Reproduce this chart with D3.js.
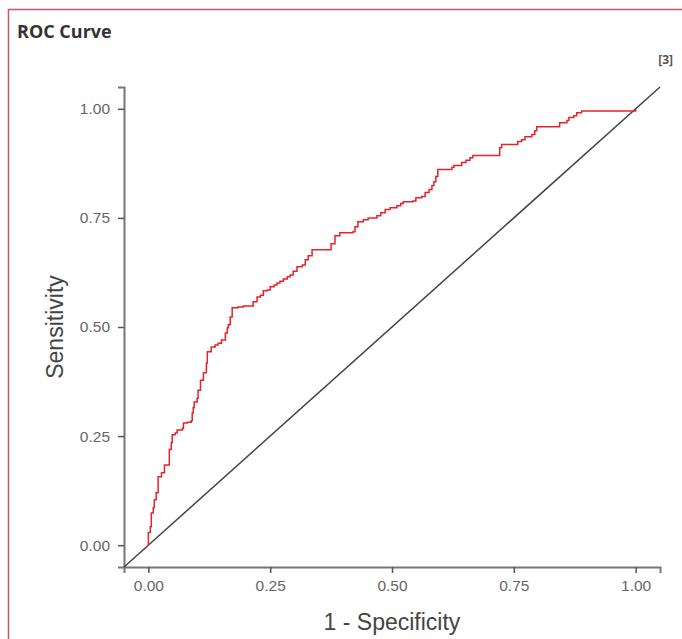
<!DOCTYPE html>
<html>
<head>
  <title>ROC Curve</title>
  <script src="https://cdn.jsdelivr.net/npm/d3@7"></script>
  <style>
    body { margin: 0; background: #fff; }
    .tick text { font-family: "Liberation Sans", Arial, sans-serif; font-size: 15.5px; fill: #666; }
    .tick line { stroke: #555; stroke-width: 1.5; }
    .domain { stroke: #777; stroke-width: 2; }
  </style>
</head>
<body>
<script>
  var width = 682;
  var height = 639;

  // roc points
  var fpr = [0, 0, 0.004, 0.006, 0.010, 0.012, 0.016, 0.020, 0.027, 0.033, 0.043, 0.047, 0.049, 0.055, 0.059,
    0.070, 0.072, 0.080, 0.088, 0.090, 0.092, 0.094, 0.100, 0.102, 0.107, 0.113, 0.119, 0.121, 0.129, 0.137,
    0.143, 0.150, 0.158, 0.162, 0.164, 0.168, 0.172, 0.184, 0.195, 0.207, 0.215, 0.223, 0.230, 0.236, 0.244,
    0.250, 0.258, 0.264, 0.270, 0.277, 0.285, 0.291, 0.297, 0.305, 0.316, 0.322, 0.328, 0.336, 0.369, 0.375,
    0.383, 0.393, 0.420, 0.424, 0.430, 0.441, 0.451, 0.469, 0.477, 0.486, 0.496, 0.510, 0.518, 0.523, 0.543,
    0.549, 0.561, 0.568, 0.576, 0.582, 0.586, 0.590, 0.594, 0.623, 0.627, 0.635, 0.643, 0.652, 0.660, 0.666,
    0.717, 0.721, 0.725, 0.752, 0.758, 0.766, 0.773, 0.787, 0.793, 0.797, 0.838, 0.844, 0.859, 0.863, 0.873,
    0.879, 0.889, 1.0];
  var tpr = [0, 0.029, 0.042, 0.074, 0.086, 0.104, 0.120, 0.157, 0.166, 0.184, 0.219, 0.235, 0.253, 0.257, 0.264,
    0.268, 0.280, 0.282, 0.285, 0.303, 0.315, 0.328, 0.337, 0.355, 0.378, 0.395, 0.417, 0.443, 0.454, 0.459,
    0.463, 0.470, 0.486, 0.498, 0.505, 0.523, 0.544, 0.546, 0.548, 0.548, 0.558, 0.569, 0.573, 0.583, 0.585,
    0.592, 0.596, 0.601, 0.605, 0.610, 0.615, 0.619, 0.628, 0.638, 0.642, 0.654, 0.663, 0.677, 0.677, 0.691,
    0.709, 0.716, 0.718, 0.730, 0.741, 0.746, 0.750, 0.755, 0.762, 0.769, 0.773, 0.778, 0.783, 0.787, 0.789,
    0.796, 0.799, 0.808, 0.815, 0.824, 0.833, 0.845, 0.861, 0.866, 0.870, 0.870, 0.877, 0.882, 0.888, 0.893,
    0.893, 0.911, 0.918, 0.918, 0.925, 0.929, 0.936, 0.941, 0.950, 0.959, 0.959, 0.968, 0.973, 0.980, 0.984,
    0.991, 0.995, 1.0];
  var ticks = [0, 0.25, 0.5, 0.75, 1];

  var svg = d3.select('body').append('svg')
    .attr('width', width)
    .attr('height', height);

  // panel border (top + left)
  svg.append('path')
    .attr('d', 'M8.5,' + height + 'V9.5H' + width)
    .attr('fill', 'none')
    .attr('stroke', '#c45a63')
    .attr('stroke-width', 1.5);

  svg.append('text')
    .attr('x', 17).attr('y', 38)
    .attr('font-family', '"Open Sans", sans-serif')
    .attr('font-weight', 'bold')
    .attr('font-size', 18)
    .attr('fill', '#333')
    .text('ROC Curve');

  svg.append('text')
    .attr('x', 673).attr('y', 64)
    .attr('text-anchor', 'end')
    .attr('font-family', '"Open Sans", sans-serif')
    .attr('font-weight', 'bold')
    .attr('font-size', 12)
    .attr('fill', '#555')
    .text('[3]');

  var x = d3.scaleLinear().domain([-0.05, 1.05]).range([124, 660]);
  var y = d3.scaleLinear().domain([-0.05, 1.05]).range([567, 87]);

  svg.append('g')
    .attr('transform', 'translate(0,567)')
    .call(d3.axisBottom(x).tickValues(ticks).tickFormat(d3.format('.2f')).tickSizeOuter(0).tickSize(6).tickPadding(7));

  svg.append('g')
    .attr('transform', 'translate(124,0)')
    .call(d3.axisLeft(y).tickValues(ticks).tickFormat(d3.format('.2f')).tickSizeOuter(0).tickSize(6).tickPadding(8));

  // diagonal reference
  svg.append('line')
    .attr('x1', x(-0.05)).attr('y1', y(-0.05))
    .attr('x2', x(1.05)).attr('y2', y(1.05))
    .attr('stroke', '#444')
    .attr('stroke-width', 1.5);

  var pts = fpr.map(function(d, i) { return [d, tpr[i]]; });
  var line = d3.line()
    .x(function(d) { return x(d[0]); })
    .y(function(d) { return y(d[1]); })
    .curve(d3.curveStepAfter);

  svg.append('path')
    .datum(pts)
    .attr('d', line)
    .attr('fill', 'none')
    .attr('stroke', '#e3242b')
    .attr('stroke-width', 1.5);

  svg.append('text')
    .attr('x', 392).attr('y', 630)
    .attr('text-anchor', 'middle')
    .attr('font-family', '"Liberation Sans", Arial, sans-serif')
    .attr('font-size', 23)
    .attr('fill', '#444')
    .text('1 - Specificity');

  svg.append('text')
    .attr('transform', 'translate(63,' + y(0.5) + ') rotate(-90)')
    .attr('text-anchor', 'middle')
    .attr('font-family', '"Liberation Sans", Arial, sans-serif')
    .attr('font-size', 23)
    .attr('fill', '#444')
    .text('Sensitivity');
</script>
</body>
</html>
